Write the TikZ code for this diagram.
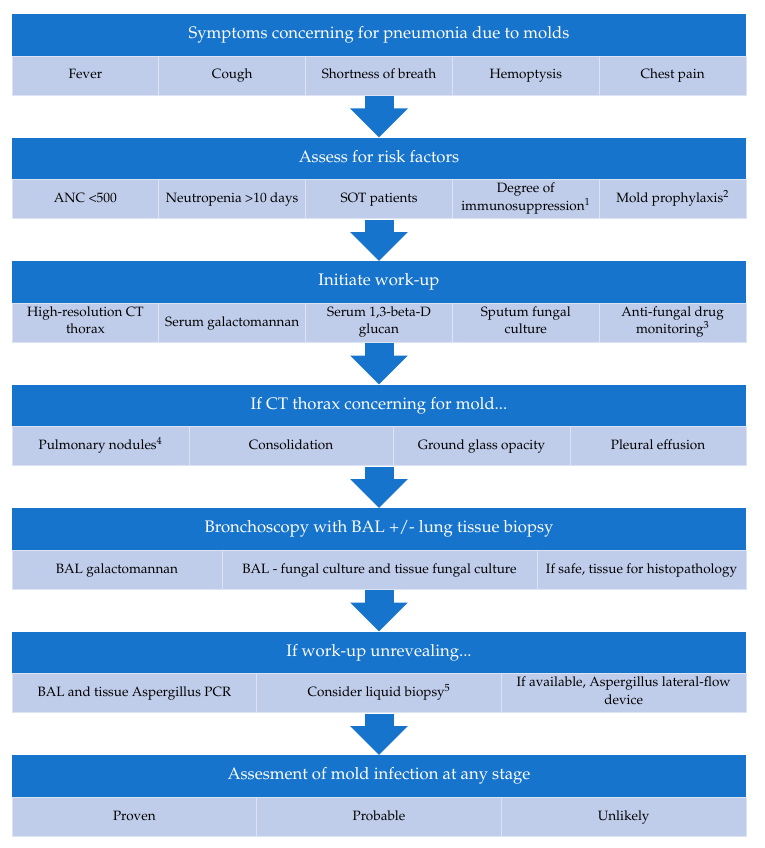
\documentclass[tikz,border=0pt]{standalone}
\usepackage[T1]{fontenc}
\usepackage{mathpazo}
\usepackage{tikz}
\usetikzlibrary{arrows.meta}

\definecolor{flowblue}{RGB}{22,116,204}
\definecolor{rowblue}{RGB}{191,204,234}

\tikzset{
    head/.style={fill=flowblue, text=white, minimum width=734, minimum height=42,
        inner sep=0, outer sep=0, font=\fontsize{16.7}{19}\selectfont,
        execute at begin node=\strut},
    rowbox/.style={fill=rowblue, minimum width=734, minimum height=39, inner sep=0, outer sep=0},
    cell/.style={draw=white!45!rowblue, line width=0.8pt, minimum height=39, inner sep=0,
        outer sep=0, align=center, font=\fontsize{13.5}{17.5}\selectfont,
        execute at begin node=\strut, execute at end node=\strut},
    flowarrow/.style={flowblue, line width=29pt, -{Triangle[width=56pt, length=29pt]}}
}

\begin{document}
\begin{tikzpicture}[x=1pt, y=-1pt]
    \useasboundingbox (0,0) rectangle (764,848);

    % Headers
    \node[head] (h1) at (379,35) {Symptoms concerning for pneumonia due to molds};
    \node[head] (h2) at (379,158.5) {Assess for risk factors};
    \node[head] (h3) at (379,282) {Initiate work-up};
    \node[head] (h4) at (379,405.5) {If CT thorax concerning for mold...};
    \node[head] (h5) at (379,529) {Bronchoscopy with BAL +/- lung tissue biopsy};
    \node[head] (h6) at (379,652.5) {If work-up unrevealing...};
    \node[head] (h7) at (379,776) {Assesment of mold infection at any stage};

    % Rows under the headers
    \node[rowbox] (r1) at (379,75.5) {};
    \node[rowbox] (r2) at (379,199) {};
    \node[rowbox] (r3) at (379,322.5) {};
    \node[rowbox] (r4) at (379,446) {};
    \node[rowbox] (r5) at (379,569.5) {};
    \node[rowbox] (r6) at (379,693) {};
    \node[rowbox] (r7) at (379,816.5) {};

    % Symptoms
    \foreach \t [count=\i] in {Fever, Cough, Shortness of breath, Hemoptysis, Chest pain}
        \node[cell, minimum width=146.8] (s\i) at ({12+146.8*(\i-0.5)},75.5) {\t};

    % Risk factors
    \foreach \t [count=\i] in {ANC <500, Neutropenia >10 days, SOT patients,
            {Degree of\\immunosuppression\textsuperscript{1}}, Mold prophylaxis\textsuperscript{2}}
        \node[cell, minimum width=146.8] (f\i) at ({12+146.8*(\i-0.5)},199) {\t};

    % Work-up
    \foreach \t [count=\i] in {{High-resolution CT\\thorax}, Serum galactomannan,
            {Serum 1,3-beta-D\\glucan}, {Sputum fungal\\culture}, {Anti-fungal drug\\monitoring\textsuperscript{3}}}
        \node[cell, minimum width=146.8] (w\i) at ({12+146.8*(\i-0.5)},322.5) {\t};

    % CT findings
    \node[cell, minimum width=177] (c1) at (100.5,446) {Pulmonary nodules\textsuperscript{4}};
    \node[cell, minimum width=204] (c2) at (291,446) {Consolidation};
    \node[cell, minimum width=177] (c3) at (481.5,446) {Ground glass opacity};
    \node[cell, minimum width=176] (c4) at (658,446) {Pleural effusion};

    % Bronchoscopy
    \node[cell, minimum width=210] (b1) at (117,569.5) {BAL galactomannan};
    \node[cell, minimum width=315] (b2) at (379.5,569.5) {BAL - fungal culture and tissue fungal culture};
    \node[cell, minimum width=209] (b3) at (641.5,569.5) {If safe, tissue for histopathology};

    % Unrevealing work-up
    \foreach \t [count=\i] in {BAL and tissue Aspergillus PCR, Consider liquid biopsy\textsuperscript{5},
            {If available, Aspergillus lateral-flow\\device}}
        \node[cell, minimum width=244.67] (u\i) at ({12+244.67*(\i-0.5)},693) {\t};

    % Assessment
    \foreach \t [count=\i] in {Proven, Probable, Unlikely}
        \node[cell, minimum width=244.67] (a\i) at ({12+244.67*(\i-0.5)},816.5) {\t};

    % Arrows between stages
    \foreach \a/\b in {1/2, 2/3, 3/4, 4/5, 5/6, 6/7}
        \draw[flowarrow] ([yshift=-1]r\a.south) -- (h\b.north);
\end{tikzpicture}
\end{document}
